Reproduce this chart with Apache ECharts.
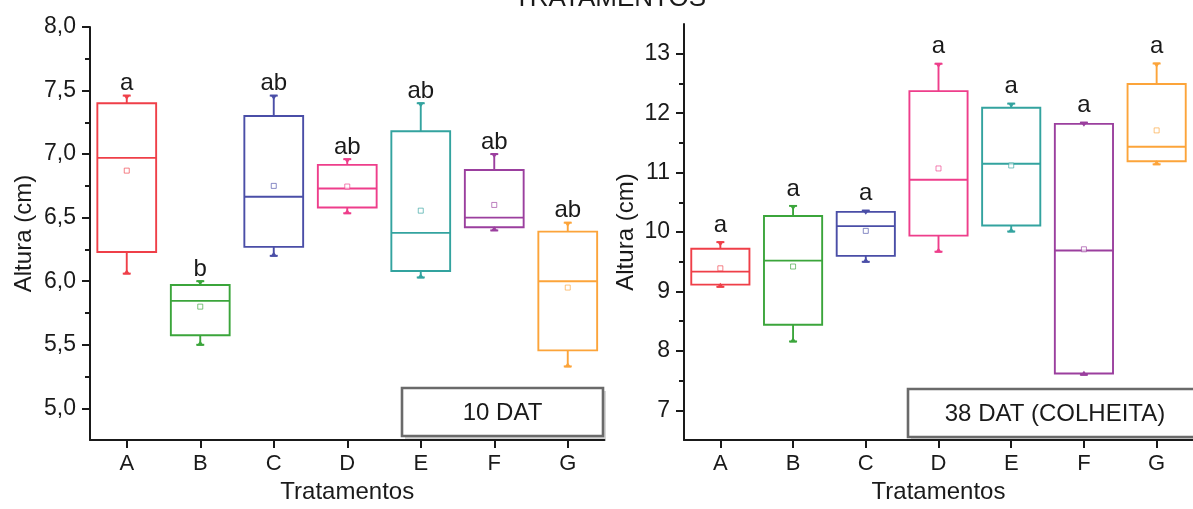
<!DOCTYPE html>
<html>
<head>
<meta charset="utf-8">
<script src="https://cdn.jsdelivr.net/npm/echarts@6/dist/echarts.min.js"></script>
<style>
  html, body { margin: 0; padding: 0; background: #fff; }
  #chart { width: 1193px; height: 509px; }
</style>
</head>
<body>
<div id="chart"></div>
<script>
// Treatments on the x axis
const treatments = ['A', 'B', 'C', 'D', 'E', 'F', 'G'];

// 10 DAT: [min, Q1, median, Q3, max] per treatment (cm)
const dat10Box = [
  [6.06, 6.23, 6.97, 7.40, 7.46],
  [5.50, 5.575, 5.845, 5.97, 6.00],
  [6.20, 6.27, 6.665, 7.30, 7.46],
  [6.535, 6.58, 6.73, 6.915, 6.96],
  [6.03, 6.08, 6.38, 7.18, 7.40],
  [6.40, 6.425, 6.50, 6.875, 7.00],
  [5.33, 5.456, 6.00, 6.39, 6.46]
];
const dat10Mean = [6.87, 5.80, 6.75, 6.745, 6.555, 6.60, 5.95];
const dat10Letters = ['a', 'b', 'ab', 'ab', 'ab', 'ab', 'ab'];

// 38 DAT (harvest): [min, Q1, median, Q3, max] per treatment (cm)
const dat38Box = [
  [9.08, 9.115, 9.335, 9.72, 9.83],
  [8.16, 8.44, 9.52, 10.27, 10.44],
  [9.50, 9.60, 10.10, 10.34, 10.36],
  [9.67, 9.94, 10.88, 12.37, 12.83],
  [10.01, 10.11, 11.15, 12.09, 12.16],
  [7.60, 7.62, 9.69, 11.82, 11.84],
  [11.14, 11.19, 11.435, 12.49, 12.835]
];
const dat38Mean = [9.39, 9.42, 10.02, 11.07, 11.12, 9.71, 11.71];
const dat38Letters = ['a', 'a', 'a', 'a', 'a', 'a', 'a'];

// Axis tick values
const dat10Ticks = [5.0, 5.5, 6.0, 6.5, 7.0, 7.5, 8.0];
const dat10MinorTicks = [5.25, 5.75, 6.25, 6.75, 7.25, 7.75];
const dat38Ticks = [7, 8, 9, 10, 11, 12, 13];
const dat38MinorTicks = [7.5, 8.5, 9.5, 10.5, 11.5, 12.5];

const panelTags = ['10 DAT', '38 DAT (COLHEITA)'];

const colors = ['#ef3f48', '#3ba53b', '#4a4ea7', '#ee3e8b', '#33a39f', '#9b3f9e', '#fca43a'];

const FONT = '"Liberation Sans", Arial, sans-serif';
const INK = '#1a1a1a';

function boxData(box, mean) {
  return box.map((b, i) => [i].concat(b, [mean[i]]));
}

function makeRender(letters, letterGap) {
  return function (params, api) {
    const i = api.value(0);
    const c = colors[i];
    const x = api.coord([i, api.value(1)])[0];
    const yMin = api.coord([i, api.value(1)])[1];
    const yQ1 = api.coord([i, api.value(2)])[1];
    const yMed = api.coord([i, api.value(3)])[1];
    const yQ3 = api.coord([i, api.value(4)])[1];
    const yMax = api.coord([i, api.value(5)])[1];
    const yMean = api.coord([i, api.value(6)])[1];
    const half = api.size([1, 0])[0] * 0.4;
    const ls = { stroke: c, lineWidth: 1.9, fill: 'none' };
    return {
      type: 'group',
      children: [
        { type: 'line', shape: { x1: x, y1: yQ3, x2: x, y2: yMax }, style: ls },
        { type: 'line', shape: { x1: x, y1: yQ1, x2: x, y2: yMin }, style: ls },
        { type: 'rect', shape: { x: x - half, y: yQ3, width: half * 2, height: yQ1 - yQ3 }, style: { stroke: c, lineWidth: 1.9, fill: '#fff' } },
        { type: 'line', shape: { x1: x - half, y1: yMed, x2: x + half, y2: yMed }, style: ls },
        { type: 'line', shape: { x1: x - 4, y1: yMax, x2: x + 4, y2: yMax }, style: ls },
        { type: 'polygon', shape: { points: [[x - 3.5, yMax - 1], [x + 3.5, yMax - 1], [x, yMax + 4]] }, style: { fill: c } },
        { type: 'line', shape: { x1: x - 4, y1: yMin, x2: x + 4, y2: yMin }, style: ls },
        { type: 'polygon', shape: { points: [[x - 3.5, yMin + 1], [x + 3.5, yMin + 1], [x, yMin - 4]] }, style: { fill: c } },
        { type: 'rect', shape: { x: x - 2.5, y: yMean - 2.5, width: 5, height: 5 }, style: { stroke: c, lineWidth: 1, fill: '#fff', opacity: 0.65 } },
        { type: 'text', style: { text: letters[i], x: x, y: yMax - letterGap, align: 'center', verticalAlign: 'middle', font: '24px ' + FONT, fill: INK } }
      ]
    };
  };
}

function yAxisPair(gridIndex, min, max, ticks, minor, fmt, nameGap) {
  return [
    {
      type: 'value', gridIndex: gridIndex, position: 'left', min: min, max: max,
      name: 'Altura (cm)', nameLocation: 'middle', nameGap: nameGap,
      nameTextStyle: { fontFamily: FONT, fontSize: 24, color: INK },
      axisLine: { show: true, lineStyle: { color: INK, width: 2 } },
      axisTick: { show: true, length: 8, lineStyle: { color: INK, width: 2 }, customValues: ticks },
      axisLabel: { customValues: ticks, formatter: fmt, margin: 14, fontFamily: FONT, fontSize: 23, color: INK },
      splitLine: { show: false }
    },
    {
      type: 'value', gridIndex: gridIndex, position: 'left', offset: 0, min: min, max: max,
      axisLine: { show: false },
      axisTick: { show: true, length: 5, lineStyle: { color: INK, width: 2 }, customValues: minor },
      axisLabel: { show: false },
      splitLine: { show: false }
    }
  ];
}

function xAxisFor(gridIndex) {
  return {
    type: 'category', gridIndex: gridIndex, data: treatments, boundaryGap: true,
    name: 'Tratamentos', nameLocation: 'middle', nameGap: 39,
    nameTextStyle: { fontFamily: FONT, fontSize: 24, color: INK },
    axisLine: { show: true, lineStyle: { color: INK, width: 2 } },
    axisTick: { show: true, alignWithLabel: true, length: 8, lineStyle: { color: INK, width: 2 } },
    axisLabel: { margin: 13, fontFamily: FONT, fontSize: 22, color: INK },
    splitLine: { show: false }
  };
}

function tagBox(x, y, w, h, text) {
  return {
    type: 'group', x: x, y: y,
    children: [
      { type: 'rect', shape: { x: 3, y: 3, width: w, height: h }, style: { fill: '#d6d6d6' } },
      { type: 'rect', shape: { x: 0, y: 0, width: w, height: h }, style: { fill: '#fff', stroke: '#6a6a6a', lineWidth: 2.6 } },
      { type: 'text', style: { text: text, x: w / 2, y: h / 2 + 1, align: 'center', verticalAlign: 'middle', font: '24px ' + FONT, fill: INK } }
    ]
  };
}

const chart = echarts.init(document.getElementById('chart'), null, { renderer: 'canvas' });

chart.setOption({
  backgroundColor: '#fff',
  animation: false,
  grid: [
    { left: 90, top: 27, width: 514.5, height: 420.3 },
    { left: 684, top: 24, width: 520, height: 423.5 }
  ],
  xAxis: [xAxisFor(0), xAxisFor(1)],
  yAxis: []
    .concat(yAxisPair(0, 4.75, 8.0, dat10Ticks, dat10MinorTicks, v => v.toFixed(1).replace('.', ','), 54))
    .concat(yAxisPair(1, 6.5, 13.5, dat38Ticks, dat38MinorTicks, v => String(v), 46)),
  series: [
    {
      type: 'custom', xAxisIndex: 0, yAxisIndex: 0, clip: false,
      data: boxData(dat10Box, dat10Mean),
      encode: { x: 0, y: [1, 2, 3, 4, 5, 6] },
      renderItem: makeRender(dat10Letters, 12)
    },
    {
      type: 'custom', xAxisIndex: 1, yAxisIndex: 2, clip: false,
      data: boxData(dat38Box, dat38Mean),
      encode: { x: 0, y: [1, 2, 3, 4, 5, 6] },
      renderItem: makeRender(dat38Letters, 17)
    }
  ],
  graphic: [
    tagBox(402, 388, 201, 48, panelTags[0]),
    tagBox(908, 389, 294, 48, panelTags[1]),
    { type: 'text', style: { text: 'TRATAMENTOS', x: 610, y: 12, align: 'center', verticalAlign: 'bottom', font: '26px ' + FONT, fill: INK } }
  ]
});
</script>
</body>
</html>
